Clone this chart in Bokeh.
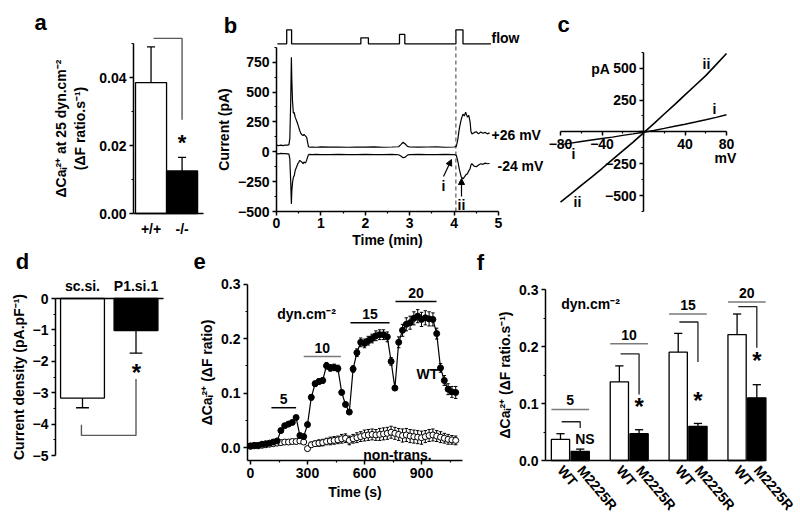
from bokeh.plotting import figure
from bokeh.layouts import row, column
from bokeh.models import Range1d, FixedTicker, NumeralTickFormatter, Label, Arrow, NormalHead
from bokeh.embed import file_html
from bokeh.resources import INLINE

FONT = "Liberation Sans"
GRAY = "#5a5a5a"
LGRAY = "#7a7a7a"

# ---------------- data ----------------
# panel a
a_cats = ["+/+", "-/-"]
a_vals = [0.0385, 0.0125]
a_errs = [0.0105, 0.0040]
a_bracket = [0.0515, 0.0276]

# panel b  (time in min, current in pA)
b_time = [0.00, 0.05, 0.10, 0.15, 0.20, 0.25, 0.28, 0.30, 0.32, 0.335,
          0.345, 0.36, 0.38, 0.40, 0.42, 0.45, 0.48, 0.50, 0.52, 0.55,
          0.58, 0.60, 0.62, 0.65, 0.68, 0.70, 0.72, 0.75, 0.80, 0.90,
          1.00, 1.20, 1.40, 1.60, 1.80, 2.00, 2.20, 2.40, 2.60, 2.75,
          2.80, 2.85, 2.90, 2.95, 3.00, 3.20, 3.40, 3.60, 3.80, 4.00,
          4.05, 4.08, 4.12, 4.16, 4.20, 4.23, 4.26, 4.30, 4.33, 4.36,
          4.38, 4.40, 4.45, 4.50, 4.55, 4.60, 4.65, 4.70, 4.75, 4.80]
b_pos = [55, 52, 56, 51, 57, 55, 60, 110, 420, 792,
         610, 430, 322, 330, 290, 262, 230, 206, 180, 153,
         140, 136, 145, 133, 120, 80, 42, 38, 40, 38,
         41, 39, 40, 38, 40, 39, 41, 38, 40, 42,
         60, 80, 65, 45, 40, 39, 40, 41, 38, 40,
         45, 95, 200, 270, 315, 300, 331, 290, 305, 250,
         170, 150, 160, 168, 150, 165, 155, 162, 150, 158]
b_neg = [-15, -17, -14, -16, -15, -17, -20, -60, -250, -436,
         -330, -260, -213, -200, -157, -130, -100, -90, -73, -80,
         -90, -100, -85, -95, -70, -45, -25, -22, -23, -22,
         -24, -23, -22, -24, -23, -22, -24, -23, -22, -25,
         -35, -50, -45, -28, -23, -22, -24, -23, -22, -23,
         -30, -73, -150, -210, -226, -213, -195, -184, -160, -142,
         -110, -100, -120, -125, -110, -100, -105, -95, -100, -98]
b_flow_t = [0.02, 0.23, 0.23, 0.34, 0.34, 1.90, 1.90, 2.07, 2.07, 2.77, 2.77, 2.89, 2.89,
            4.04, 4.04, 4.20, 4.20, 4.83]
b_flow_level = [0, 0, 1, 1, 0, 0, 0.43, 0.43, 0, 0, 0.67, 0.67, 0, 0, 1, 1, 0, 0]
b_ref_time = 4.04

# panel c  (mV, pA)
c_mv = [-80, -70, -60, -50, -40, -30, -20, -10, 0, 10, 20, 30, 40, 50, 60, 70, 80]
c_i = [-100, -89, -76, -64, -52, -41, -28, -16, -3, 11, 27, 44, 60, 77, 95, 114, 134]
c_ii = [-552, -488, -420, -356, -288, -218, -150, -80, -8, 64, 140, 214, 290, 366, 442, 528, 615]

# panel d
d_cats = ["sc.si.", "P1.si.1"]
d_vals = [-3.17, -1.02]
d_errs = [0.31, 0.72]
d_bracket = [-2.56, -4.36, -4.02]

# panel e  (time in s)
e_time = [0, 20, 40, 60, 80, 100, 120, 140, 160, 180, 200, 220, 240, 260, 280,
          300, 320, 340, 360, 380, 400, 420, 440, 460, 480, 500, 520,
          540, 560, 580, 600, 620, 640, 660, 680, 700, 720, 740, 760,
          780, 800, 820, 840, 860, 880, 900, 920, 940, 960, 980, 1000, 1020, 1040, 1060, 1080]
e_wt = [0.003, 0.004, 0.004, 0.006, 0.007, 0.008, 0.010, 0.012, 0.031, 0.040,
        0.043, 0.046, 0.055, 0.022, 0.020, 0.042, 0.092, 0.117, 0.121, 0.123,
        0.150, 0.146, 0.147, 0.145, 0.101, 0.079, 0.065, 0.144, 0.174, 0.193,
        0.191, 0.196, 0.200, 0.205, 0.207, 0.207, 0.203, 0.158, 0.109, 0.193,
        0.215, 0.226, 0.229, 0.237, 0.241, 0.235, 0.238, 0.236, 0.235, 0.209,
        0.146, 0.123, 0.107, 0.102, 0.101]
e_wt_err = [0.002, 0.002, 0.002, 0.002, 0.002, 0.002, 0.002, 0.002, 0.003, 0.003,
            0.003, 0.003, 0.003, 0.003, 0.003, 0.004, 0.005, 0.005, 0.005, 0.005,
            0.006, 0.006, 0.006, 0.006, 0.004, 0.004, 0.003, 0.006, 0.007, 0.008,
            0.008, 0.008, 0.008, 0.009, 0.009, 0.009, 0.009, 0.007, 0.004, 0.010,
            0.011, 0.012, 0.012, 0.012, 0.012, 0.013, 0.013, 0.013, 0.012, 0.010,
            0.008, 0.009, 0.010, 0.010, 0.011]
e_nt = [0.002, 0.003, 0.003, 0.004, 0.005, 0.006, 0.007, 0.008, 0.009, 0.010,
        0.010, 0.011, 0.011, 0.012, 0.010, -0.002, 0.005, 0.007, 0.008, 0.009,
        0.011, 0.012, 0.013, 0.014, 0.016, 0.017, 0.013, 0.016, 0.018, 0.020,
        0.022, 0.023, 0.024, 0.023, 0.024, 0.025, 0.026, 0.028, 0.026, 0.024,
        0.022, 0.023, 0.021, 0.020, 0.019, 0.018, 0.020, 0.022, 0.023, 0.021,
        0.019, 0.017, 0.015, 0.014, 0.013]
e_nt_err = [0.003, 0.003, 0.003, 0.003, 0.004, 0.004, 0.004, 0.004, 0.004, 0.004,
            0.004, 0.004, 0.004, 0.004, 0.004, 0.004, 0.005, 0.005, 0.006, 0.006,
            0.006, 0.007, 0.007, 0.007, 0.008, 0.008, 0.008, 0.008, 0.009, 0.009,
            0.010, 0.010, 0.010, 0.010, 0.011, 0.011, 0.011, 0.011, 0.011, 0.011,
            0.012, 0.012, 0.012, 0.012, 0.012, 0.012, 0.011, 0.011, 0.011, 0.010,
            0.010, 0.009, 0.009, 0.008, 0.008]
e_stress = ["5", "10", "15", "20"]
e_stress_on = [110, 280, 526, 763]
e_stress_off = [240, 476, 732, 979]
e_stress_level = [0.073, 0.167, 0.229, 0.268]
e_stress_color = ["black", LGRAY, "black", "black"]

# panel f
f_stress = ["5", "10", "15", "20"]
f_cats = ["WT", "M2225R"]
f_wt = [0.037, 0.138, 0.190, 0.221]
f_wt_err = [0.010, 0.028, 0.033, 0.036]
f_m = [0.016, 0.047, 0.060, 0.110]
f_m_err = [0.004, 0.007, 0.005, 0.023]
f_sig = ["NS", "*", "*", "*"]
f_bar_level = [0.0895, 0.205, 0.257, 0.278]
f_bracket_top = [0.068, 0.187, 0.243, 0.270]
f_bracket_bottom = [0.057, 0.116, 0.173, 0.198]
f_sig_y = [0.037, 0.094, 0.106, 0.176]

ROW_SPLIT = 248


# ---------------- helpers ----------------
def lin(v1, p1, v2, p2):
    k = (v2 - v1) / (p2 - p1)
    return lambda p: v1 + (p - p1) * k


def make_panel(box, mx, my, x_at, y_at, x_axis_location="below"):
    """Figure whose frame fills the whole box; axes drawn at fixed data locations."""
    bx0, by0, bx1, by1 = box
    p = figure(width=bx1 - bx0, height=by1 - by0, title=None,
               x_range=Range1d(mx(bx0), mx(bx1)), y_range=Range1d(my(by1), my(by0)),
               min_border=0, min_border_left=0, min_border_right=0,
               min_border_top=0, min_border_bottom=0,
               x_axis_location=x_axis_location,
               output_backend="svg", toolbar_location=None)
    p.outline_line_color = None
    p.xgrid.visible = False
    p.ygrid.visible = False
    p.background_fill_color = "white"
    p.border_fill_color = "white"
    p.xaxis.fixed_location = x_at
    p.yaxis.fixed_location = y_at
    for ax in p.axis:
        ax.axis_line_width = 1.5
        ax.axis_line_color = "black"
        ax.major_tick_line_width = 1.5
        ax.minor_tick_line_width = 1.2
        ax.major_tick_out = 4
        ax.major_tick_in = 0
        ax.minor_tick_out = 2
        ax.minor_tick_in = 0
        ax.major_label_text_font = FONT
        ax.major_label_text_font_style = "bold"
        ax.major_label_text_font_size = "14px"
        ax.major_label_text_color = "black"
        ax.axis_label_text_font = FONT
        ax.axis_label_text_font_style = "bold"
        ax.axis_label_text_font_size = "14px"
        ax.axis_label_text_color = "black"
        ax.major_label_standoff = 3
        ax.axis_label_standoff = 3
    return p


def lab(p, mx, my, px, py, text, size="14px", align="center", baseline="middle", color="black"):
    p.add_layout(Label(x=mx(px), y=my(py), text=text, text_font=FONT, text_font_size=size,
                       text_font_style="bold", text_align=align, text_baseline=baseline,
                       text_color=color))


def letter(p, mx, my, px, py, text):
    lab(p, mx, my, px, py, text, size="22px")


# ---------------- panel a ----------------
ax_ = lin(0.435, 133, 2.69, 203)
ay_ = lin(0.0, 213, 0.05, 43)
pa = make_panel((0, 0, 212, ROW_SPLIT), ax_, ay_, 0.0, 0.435)
a_pos = [1, 2]
pa.vbar(x=a_pos, top=a_vals, bottom=0, width=1.0, fill_color=["white", "black"],
        line_color="black", line_width=1.3)
a_top = [v + e for v, e in zip(a_vals, a_errs)]
pa.segment(x0=a_pos, y0=a_vals, x1=a_pos, y1=a_top, line_color="black", line_width=1.3)
pa.segment(x0=[x - 0.13 for x in a_pos], y0=a_top, x1=[x + 0.13 for x in a_pos], y1=a_top,
           line_color="black", line_width=1.3)
pa.line(x=[1.08, 2.0, 2.0], y=[a_bracket[0], a_bracket[0], a_bracket[1]], line_color=GRAY, line_width=1.4)
pa.xaxis.ticker = FixedTicker(ticks=a_pos)
pa.xaxis.major_label_overrides = {1: a_cats[0], 2: a_cats[1]}
pa.xaxis.major_tick_line_color = None
pa.xaxis.minor_tick_line_color = None
pa.xaxis.bounds = (0.435, 2.69)
pa.yaxis.ticker = FixedTicker(ticks=[0, 0.02, 0.04], minor_ticks=[0.01, 0.03, 0.05])
pa.yaxis.formatter = NumeralTickFormatter(format="0.00")
pa.yaxis.bounds = (0, 0.05)
pa.yaxis.axis_label = "ΔCaᵢ²⁺ at 25 dyn.cm⁻²\n(ΔF ratio.s⁻¹)"
pa.yaxis.axis_label_standoff = 8
letter(pa, ax_, ay_, 40, 22, "a")
lab(pa, ax_, ay_, 181.5, 142, "*", size="22px")

# ---------------- panel b ----------------
bx_ = lin(0, 276, 5, 498)
by_ = lin(-500, 211, 750, 61.7)
pb = make_panel((212, 0, 545, ROW_SPLIT), bx_, by_, -500, 0)
flow_base, flow_high = by_(43.3), by_(29.3)
pb.line(x=b_flow_t, y=[flow_base + lv * (flow_high - flow_base) for lv in b_flow_level],
        line_color="black", line_width=1.3)
pb.line(x=[b_ref_time, b_ref_time], y=[-500, flow_high], line_color=GRAY, line_width=1.2,
        line_dash="4 3")
pb.line(x=b_time, y=b_pos, line_color="black", line_width=1.2)
pb.line(x=b_time, y=b_neg, line_color="black", line_width=1.2)
pb.xaxis.ticker = FixedTicker(ticks=[0, 1, 2, 3, 4, 5], minor_ticks=[0.5, 1.5, 2.5, 3.5, 4.5])
pb.xaxis.bounds = (0, 5)
pb.xaxis.major_label_standoff = 2
pb.xaxis.axis_label_standoff = 1
pb.xaxis.axis_label = "Time (min)"
pb.yaxis.ticker = FixedTicker(ticks=[-500, -250, 0, 250, 500, 750],
                              minor_ticks=[-375, -125, 125, 375, 625, 875])
pb.yaxis.bounds = (-500, 875)
pb.yaxis.axis_label = "Current (pA)"
letter(pb, bx_, by_, 230, 25, "b")
lab(pb, bx_, by_, 491, 37, "flow", align="left")
lab(pb, bx_, by_, 491, 134, "+26 mV", align="left")
lab(pb, bx_, by_, 497, 165, "-24 mV", align="left")
lab(pb, bx_, by_, 443, 185, "i")
lab(pb, bx_, by_, 461, 204, "ii")
pb.add_layout(Arrow(end=NormalHead(size=6, fill_color="black", line_color="black"),
                    x_start=bx_(443), y_start=by_(176), x_end=bx_(451), y_end=by_(159),
                    line_width=1.2))
pb.add_layout(Arrow(end=NormalHead(size=6, fill_color="black", line_color="black"),
                    x_start=bx_(461), y_start=by_(196), x_end=bx_(461), y_end=by_(178),
                    line_width=1.2))

# ---------------- panel c ----------------
cx_ = lin(-80, 560, 80, 726)
cy_ = lin(-500, 195, 500, 67.7)
pc = make_panel((545, 0, 800, ROW_SPLIT), cx_, cy_, 0, 0)
pc.line(x=c_mv, y=c_i, line_color="black", line_width=1.4)
pc.line(x=c_mv, y=c_ii, line_color="black", line_width=1.6)
pc.xaxis.ticker = FixedTicker(ticks=[-80, -40, 0, 40, 80], minor_ticks=[-60, -20, 20, 60])
pc.xaxis.major_label_overrides = {0: ""}
pc.xaxis.bounds = (-80, 80)
pc.yaxis.ticker = FixedTicker(ticks=[-500, -250, 0, 250, 500],
                              minor_ticks=[-625, -375, -125, 125, 375, 625])
pc.yaxis.major_label_overrides = {0: ""}
pc.yaxis.bounds = (-625, 625)
letter(pc, cx_, cy_, 563, 24, "c")
lab(pc, cx_, cy_, 600, 68, "pA")
lab(pc, cx_, cy_, 725, 157, "mV")
lab(pc, cx_, cy_, 706, 63, "ii")
lab(pc, cx_, cy_, 714, 108, "i")
lab(pc, cx_, cy_, 573, 153, "i")
lab(pc, cx_, cy_, 577, 201, "ii")

# ---------------- panel d ----------------
dx_ = lin(1, 82, 2, 135.5)
dy_ = lin(0, 298, -5, 455)
pd = make_panel((0, ROW_SPLIT, 186, 523), dx_, dy_, 0, 0.495, x_axis_location="above")
d_pos = [1, 2]
pd.vbar(x=d_pos, top=0, bottom=d_vals, width=0.82, fill_color=["white", "black"],
        line_color="black", line_width=1.3)
d_low = [v - e for v, e in zip(d_vals, d_errs)]
pd.segment(x0=d_pos, y0=d_vals, x1=d_pos, y1=d_low, line_color="black", line_width=1.3)
pd.segment(x0=[x - 0.12 for x in d_pos], y0=d_low, x1=[x + 0.12 for x in d_pos], y1=d_low,
           line_color="black", line_width=1.3)
pd.line(x=[2, 2, 0.98, 0.98], y=[d_bracket[0], d_bracket[1], d_bracket[1], d_bracket[2]],
        line_color=GRAY, line_width=1.4)
pd.xaxis.ticker = FixedTicker(ticks=d_pos)
pd.xaxis.major_label_overrides = {1: d_cats[0], 2: d_cats[1]}
pd.xaxis.major_tick_line_color = None
pd.xaxis.minor_tick_line_color = None
pd.xaxis.bounds = (0.495, 2.514)
pd.xaxis.major_label_standoff = 1
pd.yaxis.ticker = FixedTicker(ticks=[0, -1, -2, -3, -4, -5],
                              minor_ticks=[-0.5, -1.5, -2.5, -3.5, -4.5])
pd.yaxis.bounds = (-5, 0)
pd.yaxis.axis_label = "Current density (pA.pF⁻¹)"
letter(pd, dx_, dy_, 22, 261, "d")
lab(pd, dx_, dy_, 136, 372, "*", size="24px")

# ---------------- panel e ----------------
ex_ = lin(0, 250, 300, 307)
ey_ = lin(0, 447, 0.3, 283.5)
pe = make_panel((186, ROW_SPLIT, 469, 523), ex_, ey_, ey_(460), ex_(247))
nt_lo = [v - e for v, e in zip(e_nt, e_nt_err)]
nt_hi = [v + e for v, e in zip(e_nt, e_nt_err)]
pe.segment(x0=e_time, y0=nt_lo, x1=e_time, y1=nt_hi, line_color="black", line_width=1)
for yy in (nt_lo, nt_hi):
    pe.segment(x0=[t - 9 for t in e_time], y0=yy, x1=[t + 9 for t in e_time], y1=yy,
               line_color="black", line_width=1)
pe.scatter(x=e_time, y=e_nt, marker="circle", size=6, fill_color="white", line_color="black",
           line_width=1)
pe.line(x=e_time, y=e_wt, line_color="black", line_width=1.2)
wt_lo = [v - e for v, e in zip(e_wt, e_wt_err)]
wt_hi = [v + e for v, e in zip(e_wt, e_wt_err)]
pe.segment(x0=e_time, y0=wt_lo, x1=e_time, y1=wt_hi, line_color="black", line_width=1)
for yy in (wt_lo, wt_hi):
    pe.segment(x0=[t - 9 for t in e_time], y0=yy, x1=[t + 9 for t in e_time], y1=yy,
               line_color="black", line_width=1)
pe.scatter(x=e_time, y=e_wt, marker="circle", size=6, fill_color="black", line_color="black")
pe.segment(x0=e_stress_on, y0=e_stress_level, x1=e_stress_off, y1=e_stress_level,
           line_color=e_stress_color, line_width=1.5)
for s, t0, t1, lv in zip(e_stress, e_stress_on, e_stress_off, e_stress_level):
    pe.add_layout(Label(x=(t0 + t1) / 2, y=lv + 0.016, text=s, text_font=FONT,
                        text_font_size="14px", text_font_style="bold", text_align="center",
                        text_baseline="middle", text_color="black"))
pe.xaxis.ticker = FixedTicker(ticks=[0, 300, 600, 900], minor_ticks=[150, 450, 750, 1050])
pe.xaxis.bounds = (ex_(247), 1116)
pe.xaxis.axis_label = "Time (s)"
pe.yaxis.ticker = FixedTicker(ticks=[0, 0.1, 0.2, 0.3], minor_ticks=[0.05, 0.15, 0.25])
pe.yaxis.formatter = NumeralTickFormatter(format="0.0")
pe.yaxis.bounds = (ey_(460), 0.3)
pe.yaxis.axis_label = "ΔCaᵢ²⁺ (ΔF ratio)"
letter(pe, ex_, ey_, 199, 261, "e")
lab(pe, ex_, ey_, 306, 313, "dyn.cm⁻²")
lab(pe, ex_, ey_, 427, 373, "WT")
lab(pe, ex_, ey_, 397, 454, "non-trans.")

# ---------------- panel f ----------------
fx_ = lin(1, 569.7, 4, 746.3)
fy_ = lin(0, 460, 0.3, 289)
pf = make_panel((469, ROW_SPLIT, 800, 523), fx_, fy_, 0, fx_(545))
groups = [1, 2, 3, 4]
x_wt = [g - 0.165 for g in groups]
x_m = [g + 0.17 for g in groups]
pf.vbar(x=x_wt, top=f_wt, bottom=0, width=0.31, fill_color="white", line_color="black", line_width=1.3)
pf.vbar(x=x_m, top=f_m, bottom=0, width=0.31, fill_color="black", line_color="black", line_width=1.3)
for xs, vs, es in ((x_wt, f_wt, f_wt_err), (x_m, f_m, f_m_err)):
    tops = [v + e for v, e in zip(vs, es)]
    pf.segment(x0=xs, y0=vs, x1=xs, y1=tops, line_color="black", line_width=1.3)
    pf.segment(x0=[x - 0.07 for x in xs], y0=tops, x1=[x + 0.07 for x in xs], y1=tops,
               line_color="black", line_width=1.3)
pf.segment(x0=[g - 0.32 for g in groups], y0=f_bar_level, x1=[g + 0.32 for g in groups],
           y1=f_bar_level, line_color=LGRAY, line_width=1.5)
for i, g in enumerate(groups):
    pf.line(x=[x_wt[i] + 0.02, x_m[i], x_m[i]], y=[f_bracket_top[i], f_bracket_top[i], f_bracket_bottom[i]],
            line_color="#222222", line_width=1.3)
    pf.add_layout(Label(x=g, y=f_bar_level[i] + 0.016, text=f_stress[i], text_font=FONT,
                        text_font_size="14px", text_font_style="bold", text_align="center",
                        text_baseline="middle", text_color="black"))
    sig = f_sig[i]
    pf.add_layout(Label(x=x_m[i] + (0.08 if sig == "NS" else 0.0), y=f_sig_y[i], text=sig,
                        text_font=FONT, text_font_size="14px" if sig == "NS" else "24px",
                        text_font_style="bold", text_align="center", text_baseline="middle",
                        text_color="black"))
ticks_f = sorted(x_wt + x_m)
pf.xaxis.ticker = FixedTicker(ticks=ticks_f)
pf.xaxis.major_label_overrides = {x: (f_cats[0] if x in x_wt else f_cats[1]) for x in ticks_f}
pf.xaxis.major_tick_line_color = None
pf.xaxis.minor_tick_line_color = None
pf.xaxis.major_label_orientation = -0.87
pf.xaxis.bounds = (fx_(545), 4.28)
pf.yaxis.ticker = FixedTicker(ticks=[0, 0.1, 0.2, 0.3], minor_ticks=[0.05, 0.15, 0.25])
pf.yaxis.formatter = NumeralTickFormatter(format="0.0")
pf.yaxis.bounds = (0, 0.3)
pf.yaxis.axis_label = "ΔCaᵢ²⁺ (ΔF ratio.s⁻¹)"
letter(pf, fx_, fy_, 480, 262, "f")
lab(pf, fx_, fy_, 590, 303, "dyn.cm⁻²")

layout = column(row(pa, pb, pc), row(pd, pe, pf))
open("out.html", "w").write(file_html(layout, INLINE, title="figure"))
